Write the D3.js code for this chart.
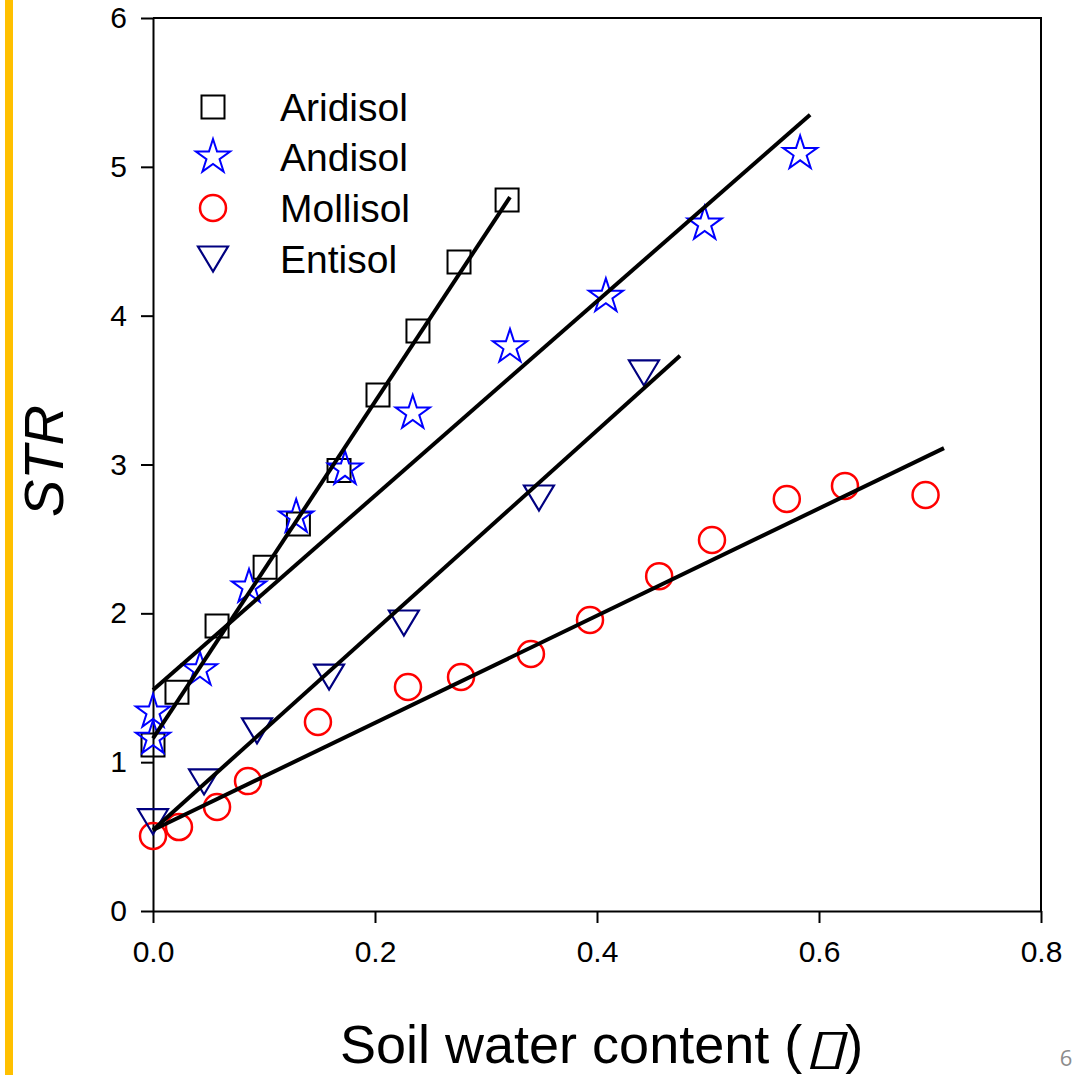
<!DOCTYPE html>
<html>
<head>
<meta charset="utf-8">
<script src="https://cdn.jsdelivr.net/npm/d3@7"></script>
<style>
  html, body { margin: 0; padding: 0; background: #fff; }
  svg { display: block; }
</style>
</head>
<body>
<svg id="chart" width="1083" height="1075"></svg>
<script>
// ---- data ----
const aridisolX = [0, 0.0216, 0.0577, 0.101, 0.131, 0.1676, 0.2027, 0.2387, 0.2757, 0.319];
const aridisolY = [1.115, 1.47, 1.915, 2.31, 2.60, 2.96, 3.467, 3.897, 4.36, 4.777];
const andisolX = [0, 0, 0.0423, 0.0865, 0.129, 0.173, 0.234, 0.3216, 0.408, 0.497, 0.583];
const andisolY = [1.337, 1.16, 1.62, 2.177, 2.647, 2.97, 3.346, 3.79, 4.13, 4.616, 5.09];
const mollisolX = [0, 0.0234, 0.0577, 0.0856, 0.1486, 0.2297, 0.2775, 0.3405, 0.3937, 0.456, 0.5036, 0.571, 0.6234, 0.696];
const mollisolY = [0.504, 0.564, 0.699, 0.873, 1.27, 1.505, 1.572, 1.727, 1.955, 2.25, 2.493, 2.768, 2.856, 2.795];
const entisolX = [0, 0.046, 0.0937, 0.1586, 0.226, 0.3477, 0.4423];
const entisolY = [0.60, 0.867, 1.21, 1.572, 1.935, 2.775, 3.615];

// fitted regression lines: [x0, y0, x1, y1]
const aridisolFit = [0, 1.16, 0.3216, 4.797];
const andisolFit = [0, 1.485, 0.592, 5.35];
const mollisolFit = [0, 0.544, 0.7126, 3.11];
const entisolFit = [0, 0.544, 0.4748, 3.73];

const seriesNames = ["Aridisol", "Andisol", "Mollisol", "Entisol"];
const xTicks = [0, 0.2, 0.4, 0.6, 0.8];
const yTicks = [0, 1, 2, 3, 4, 5, 6];
const xTitle = "Soil water content (";
const xTitleSymbol = "\u25AF";
const xTitleEnd = ")";
const yTitle = "STR";
const pageNumber = "6";

// ---- drawing ----
const svg = d3.select("#chart");
const x = d3.scaleLinear().domain([0, 0.8]).range([153, 1041]);
const y = d3.scaleLinear().domain([0, 6]).range([911, 18]);
const FONT = "'Liberation Sans', Arial, sans-serif";

// orange side bar
svg.append("rect").attr("x", 5).attr("y", 0).attr("width", 8).attr("height", 1075).attr("fill", "#FFC000");

// frame top/right
svg.append("path")
  .attr("d", `M${x(0)},${y(6)}H${x(0.8)}V${y(0)}`)
  .attr("fill", "none").attr("stroke", "#000").attr("stroke-width", 2);

// axes
const xAxis = svg.append("g").attr("transform", `translate(0,${y(0)})`)
  .call(d3.axisBottom(x).tickValues(xTicks).tickFormat(d3.format(".1f")).tickSize(12).tickSizeOuter(0).tickPadding(12));
const yAxis = svg.append("g").attr("transform", `translate(${x(0)},0)`)
  .call(d3.axisLeft(y).tickValues(yTicks).tickFormat(d3.format("d")).tickSize(12).tickSizeOuter(0).tickPadding(14));
[xAxis, yAxis].forEach(g => {
  g.select(".domain").attr("stroke", "#000").attr("stroke-width", 2);
  g.selectAll(".tick line").attr("stroke", "#000").attr("stroke-width", 2);
  g.selectAll(".tick text").attr("font-family", FONT).attr("font-size", 30).attr("fill", "#000");
});
xAxis.selectAll(".tick text").attr("dy", "0.9em");

// symbol generators
function starPath(R) {
  const r = R * 0.382;
  let p = "";
  for (let i = 0; i < 10; i++) {
    const a = -Math.PI / 2 + i * Math.PI / 5;
    const rad = i % 2 === 0 ? R : r;
    p += (i === 0 ? "M" : "L") + (rad * Math.cos(a)).toFixed(2) + "," + (rad * Math.sin(a)).toFixed(2);
  }
  return p + "Z";
}
const symbols = {
  Aridisol: { d: "M-11.5,-11.5H11.5V11.5H-11.5Z", color: "#000000", sw: 2 },
  Andisol: { d: starPath(18), color: "#0000FF", sw: 2 },
  Mollisol: { d: d3.symbol().type(d3.symbolCircle).size(Math.PI * 13 * 13)(), color: "#FF0000", sw: 2.5 },
  Entisol: { d: "M0,12.5L-15,-12.5H15Z", color: "#000080", sw: 2.2 }
};

const series = [
  { name: "Aridisol", xs: aridisolX, ys: aridisolY, fit: aridisolFit },
  { name: "Andisol", xs: andisolX, ys: andisolY, fit: andisolFit },
  { name: "Mollisol", xs: mollisolX, ys: mollisolY, fit: mollisolFit },
  { name: "Entisol", xs: entisolX, ys: entisolY, fit: entisolFit }
];

const plot = svg.append("g");
// markers
series.forEach(s => {
  const sym = symbols[s.name];
  plot.append("g").selectAll("path")
    .data(s.xs.map((v, i) => [v, s.ys[i]]))
    .join("path")
    .attr("d", sym.d)
    .attr("transform", d => `translate(${x(d[0])},${y(d[1])})`)
    .attr("fill", "none").attr("stroke", sym.color).attr("stroke-width", sym.sw);
});
// fit lines
series.forEach(s => {
  plot.append("line")
    .attr("x1", x(s.fit[0])).attr("y1", y(s.fit[1]))
    .attr("x2", x(s.fit[2])).attr("y2", y(s.fit[3]))
    .attr("stroke", "#000").attr("stroke-width", 4).attr("stroke-linecap", "butt");
});

// legend
const legendY = [107, 157, 208, 259];
const legend = svg.append("g");
seriesNames.forEach((n, i) => {
  const sym = symbols[n];
  legend.append("path").attr("d", sym.d)
    .attr("transform", `translate(213,${legendY[i]})`)
    .attr("fill", "none").attr("stroke", sym.color).attr("stroke-width", sym.sw);
  legend.append("text").attr("x", 280).attr("y", legendY[i]).attr("dy", "0.36em")
    .attr("font-family", FONT).attr("font-size", 39).attr("fill", "#000").text(n);
});

// x axis title (three pieces so the symbol can be slanted)
const titleBase = 1063;
const t1 = svg.append("text").attr("x", 340).attr("y", titleBase)
  .attr("font-family", FONT).attr("font-size", 54).attr("fill", "#000").text(xTitle);
const w1 = t1.node().getComputedTextLength();
const symX = 340 + w1 + 2;
const t2 = svg.append("text").attr("x", 0).attr("y", 0)
  .attr("transform", `translate(${symX},${titleBase}) skewX(-14) scale(1.7,1.05)`)
  .attr("font-family", "'DejaVu Sans', sans-serif").attr("font-size", 46).attr("fill", "#000").text(xTitleSymbol);
const w2 = t2.node().getComputedTextLength() * 1.7;
svg.append("text").attr("x", symX + w2 - 2).attr("y", titleBase)
  .attr("font-family", FONT).attr("font-size", 54).attr("fill", "#000").text(xTitleEnd);

svg.append("text").attr("transform", "translate(63,461) rotate(-90)").attr("text-anchor", "middle")
  .attr("font-family", FONT).attr("font-size", 56).attr("font-style", "italic").attr("fill", "#000").text(yTitle);

// page number
svg.append("text").attr("x", 1066).attr("y", 1066).attr("text-anchor", "middle")
  .attr("font-family", "'Open Sans', sans-serif").attr("font-size", 22).attr("fill", "#8c8c8c").text(pageNumber);
</script>
</body>
</html>
